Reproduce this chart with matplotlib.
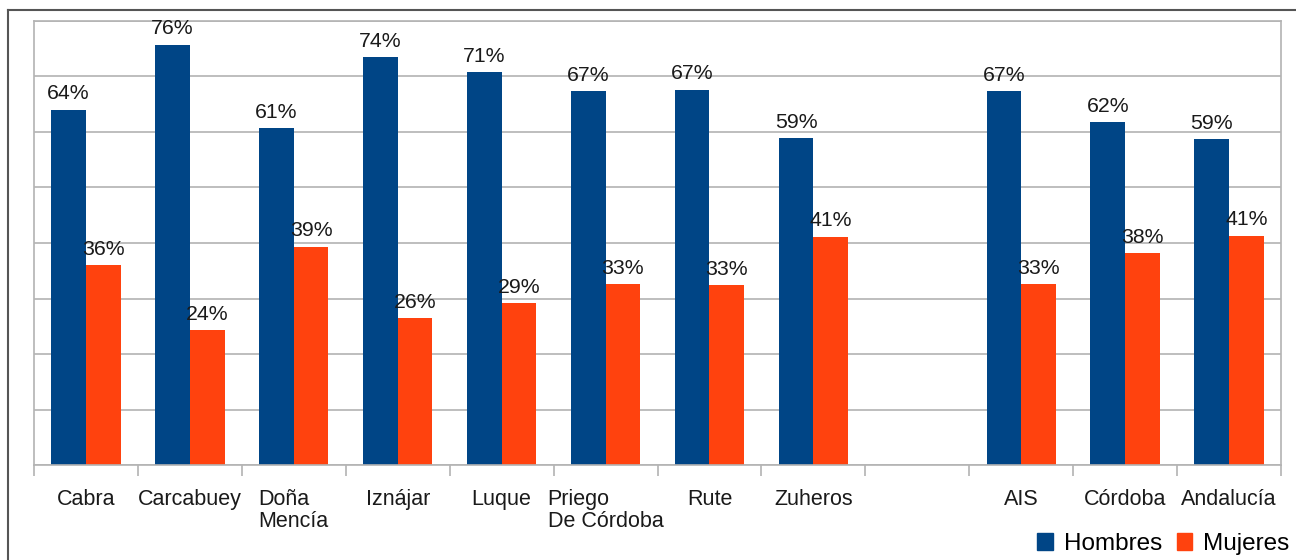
import numpy as np
import matplotlib.pyplot as plt
from matplotlib.lines import Line2D
from matplotlib.patches import Patch

plt.rcParams['font.family'] = ['Liberation Sans', 'DejaVu Sans']

# data
categorias = ["Cabra", "Carcabuey", "Doña\nMencía", "Iznájar", "Luque",
              "Priego\nDe Córdoba", "Rute", "Zuheros", "", "AIS", "Córdoba", "Andalucía"]
hombres = [64.0, 75.7, 60.7, 73.5, 70.8, 67.4, 67.6, 58.9, np.nan, 67.4, 61.8, 58.7]
mujeres = [36.0, 24.3, 39.3, 26.5, 29.2, 32.6, 32.4, 41.1, np.nan, 32.6, 38.2, 41.3]
etiq_h = ["64%", "76%", "61%", "74%", "71%", "67%", "67%", "59%", "", "67%", "62%", "59%"]
etiq_m = ["36%", "24%", "39%", "26%", "29%", "33%", "33%", "41%", "", "33%", "38%", "41%"]

azul = "#004586"
naranja = "#ff420e"

fig = plt.figure(figsize=(12.96, 5.6), dpi=100)
ax = fig.add_axes([34 / 1296, 1 - 465 / 560, (1281 - 34) / 1296, (465 - 21) / 560])

x = np.arange(len(categorias))
w = 1 / 3
ax.bar(x - w / 2, hombres, w, color=azul, zorder=2)
ax.bar(x + w / 2, mujeres, w, color=naranja, zorder=2)

# value labels
for i in range(len(x)):
    if etiq_h[i]:
        ax.annotate(etiq_h[i], (x[i] - w / 2, hombres[i]), xytext=(0, 7.5),
                    textcoords="offset points", ha="center", va="baseline",
                    fontsize=15.3, color="#1a1a1a", zorder=3)
        ax.annotate(etiq_m[i], (x[i] + w / 2, mujeres[i]), xytext=(0, 7.5),
                    textcoords="offset points", ha="center", va="baseline",
                    fontsize=15.3, color="#1a1a1a", zorder=3)

ax.set_xlim(-0.5, len(x) - 0.5)
ax.set_ylim(0, 80)
ax.set_yticks(np.arange(0, 81, 10))
ax.yaxis.grid(True, color="#b3b3b3", linewidth=1.2, zorder=0)
ax.tick_params(axis="y", length=0, labelleft=False)

ax.set_xticks(x)
ax.set_xticklabels(categorias, fontsize=15.5, multialignment="left",
                   linespacing=1.1, color="#1a1a1a")
ax.tick_params(axis="x", which="major", length=0, pad=17)
ax.set_xticks(np.arange(-0.5, len(x), 1), minor=True)
ax.tick_params(axis="x", which="minor", length=8, width=1.2, color="#b3b3b3")

for s in ax.spines.values():
    s.set_color("#b3b3b3")
    s.set_linewidth(1.2)

# outer frame (top and left only visible)
fig.add_artist(Line2D([8 / 1296, 1], [1 - 10 / 560, 1 - 10 / 560],
                      transform=fig.transFigure, color="#555555", linewidth=1.5))
fig.add_artist(Line2D([8 / 1296, 8 / 1296], [0, 1 - 10 / 560],
                      transform=fig.transFigure, color="#555555", linewidth=1.5))

handles = [Patch(color=azul), Patch(color=naranja)]
fig.legend(handles, ["Hombres", "Mujeres"], loc="center right",
           bbox_to_anchor=(0.997, 1 - 544 / 560), ncol=2, frameon=False,
           fontsize=17.5, handlelength=0.65, handleheight=0.65, handletextpad=0.45,
           columnspacing=0.6, borderaxespad=0, borderpad=0.1)

fig.savefig("out.png", dpi=100)
